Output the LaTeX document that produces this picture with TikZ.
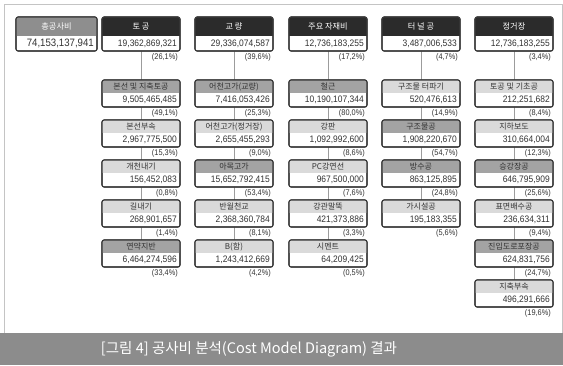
\documentclass[tikz,border=0pt]{standalone}
\usepackage{fontspec}
\setmainfont{Noto Sans CJK KR}
\newfontfamily\numfont[FakeStretch=0.9]{Liberation Sans}
\usetikzlibrary{calc}
\pgfdeclarelayer{bg}
\pgfsetlayers{bg,main}
\definecolor{boxline}{HTML}{3A3A3A}
\definecolor{hdrdark}{HTML}{2B2B2B}
\definecolor{hdrmid}{HTML}{A3A3A3}
\definecolor{hdrlight}{HTML}{DADADA}
\definecolor{hdrtotal}{HTML}{8E8E8E}
\definecolor{linkc}{HTML}{9C9C9C}
\definecolor{framec}{HTML}{C4C4C4}
\definecolor{capbar}{HTML}{8C8C8C}
\definecolor{txt}{HTML}{333333}
\tikzset{
  boxshape/.style={draw=boxline, line width=1.1pt, rounded corners=2.2pt, fill=white,
    minimum width=78pt, inner sep=0pt, outer sep=0pt},
  topbox/.style={boxshape, minimum height=34pt},
  subbox/.style={boxshape, minimum height=27pt},
  hdrsub/.style={font=\fontsize{8}{9}\selectfont, text=txt, inner sep=0pt},
  hdrtop/.style={font=\fontsize{8.2}{9}\selectfont, text=white, inner sep=0pt},
  valtxt/.style={font=\numfont\fontsize{9.4}{10}\selectfont, text=txt, inner sep=0pt, anchor=east},
  pcttxt/.style={font=\numfont\fontsize{8.2}{9}\selectfont, text=txt, inner sep=0pt, anchor=east},
  link/.style={draw=linkc, line width=0.9pt},
}
% #1 name, #2 position, #3 box style, #4 header height, #5 header fill,
% #6 header text style, #7 header, #8 value, #9 percent
\newcommand\mkbox[9]{%
  \node[#3, anchor=north] (#1) at #2 {};
  \begin{scope}
    \clip[rounded corners=2.2pt] (#1.north west) rectangle (#1.south east);
    \fill[#5] (#1.north west) rectangle ($(#1.north east)+(0pt,-#4pt)$);
  \end{scope}
  \draw[draw=boxline, line width=1.1pt, rounded corners=2.2pt] (#1.north west) rectangle (#1.south east);
  \node[#6] (#1-h) at ($(#1.north)+(0pt,{-#4/2*1pt})$) {#7};
  \node[valtxt] (#1-v) at ($ ($(#1.north east)+(-3pt,-#4pt)$)!0.5!($(#1.south east)+(-3pt,0pt)$) $) {#8};
  \if\relax\detokenize{#9}\relax\else
    \node[pcttxt] (#1-p) at ($(#1.south east)+(-2pt,-6.5pt)$) {#9};
  \fi
}
\begin{document}
\begin{tikzpicture}[x=1pt,y=-1pt]
\useasboundingbox (0,0) rectangle (563,365);
\begin{pgfonlayer}{bg}
  \fill[white] (0,0) rectangle (563,365);
  \draw[framec, line width=0.8pt] (562,4) -- (4,4) -- (4,333) -- (562,333) -- cycle;
\end{pgfonlayer}
\fill[capbar] (0,333) rectangle (563,365);
\node[font=\fontsize{14.5}{16}\selectfont, text=white, inner sep=0pt] (cap) at (249,349.5)
  {[그림 4] 공사비 분석(Cost Model Diagram) 결과};

% total
\mkbox{tot}{(56.5,17)}{topbox, minimum width=81pt}{19}{hdrtotal}{hdrtop}{총공사비}
  {\fontsize{10.7}{11}\selectfont 74,153,137,941}{}

% column 1
\mkbox{t1}{(141,17)}{topbox}{19}{hdrdark}{hdrtop}{토 공}{19,362,869,321}{(26,1\%)}
\mkbox{a1}{(141,80)}{subbox}{13}{hdrmid}{hdrsub}{본선 및 지축토공}{9,505,465,485}{(49,1\%)}
\mkbox{a2}{(141,120)}{subbox}{13}{hdrlight}{hdrsub}{본선부속}{2,967,775,500}{(15,3\%)}
\mkbox{a3}{(141,160)}{subbox}{13}{hdrlight}{hdrsub}{개천내기}{156,452,083}{(0,8\%)}
\mkbox{a4}{(141,200)}{subbox}{13}{hdrlight}{hdrsub}{길내기}{268,901,657}{(1,4\%)}
\mkbox{a5}{(141,240)}{subbox}{13}{hdrmid}{hdrsub}{연약지반}{6,464,274,596}{(33,4\%)}

% column 2
\mkbox{t2}{(234,17)}{topbox}{19}{hdrdark}{hdrtop}{교 량}{29,336,074,587}{(39,6\%)}
\mkbox{b1}{(234,80)}{subbox}{13}{hdrmid}{hdrsub}{어천고가(교량)}{7,416,053,426}{(25,3\%)}
\mkbox{b2}{(234,120)}{subbox}{13}{hdrlight}{hdrsub}{어천고가(정거장)}{2,655,455,293}{(9,0\%)}
\mkbox{b3}{(234,160)}{subbox}{13}{hdrmid}{hdrsub}{아목고가}{15,652,792,415}{(53,4\%)}
\mkbox{b4}{(234,200)}{subbox}{13}{hdrlight}{hdrsub}{반월천교}{2,368,360,784}{(8,1\%)}
\mkbox{b5}{(234,240)}{subbox}{13}{hdrlight}{hdrsub}{B(함)}{1,243,412,669}{(4,2\%)}

% column 3
\mkbox{t3}{(328,17)}{topbox}{19}{hdrdark}{hdrtop}{주요 자재비}{12,736,183,255}{(17,2\%)}
\mkbox{c1}{(328,80)}{subbox}{13}{hdrmid}{hdrsub}{철근}{10,190,107,344}{(80,0\%)}
\mkbox{c2}{(328,120)}{subbox}{13}{hdrlight}{hdrsub}{강판}{1,092,992,600}{(8,6\%)}
\mkbox{c3}{(328,160)}{subbox}{13}{hdrlight}{hdrsub}{PC강연선}{967,500,000}{(7,6\%)}
\mkbox{c4}{(328,200)}{subbox}{13}{hdrlight}{hdrsub}{강관말뚝}{421,373,886}{(3,3\%)}
\mkbox{c5}{(328,240)}{subbox}{13}{hdrlight}{hdrsub}{시멘트}{64,209,425}{(0,5\%)}

% column 4
\mkbox{t4}{(421,17)}{topbox}{19}{hdrdark}{hdrtop}{터 널 공}{3,487,006,533}{(4,7\%)}
\mkbox{d1}{(421,80)}{subbox}{13}{hdrlight}{hdrsub}{구조물 터파기}{520,476,613}{(14,9\%)}
\mkbox{d2}{(421,120)}{subbox}{13}{hdrmid}{hdrsub}{구조물공}{1,908,220,670}{(54,7\%)}
\mkbox{d3}{(421,160)}{subbox}{13}{hdrmid}{hdrsub}{방수공}{863,125,895}{(24,8\%)}
\mkbox{d4}{(421,200)}{subbox}{13}{hdrlight}{hdrsub}{가시설공}{195,183,355}{(5,6\%)}

% column 5
\mkbox{t5}{(514,17)}{topbox}{19}{hdrdark}{hdrtop}{정거장}{12,736,183,255}{(3,4\%)}
\mkbox{e1}{(514,80)}{subbox}{13}{hdrlight}{hdrsub}{토공 및 기초공}{212,251,682}{(8,4\%)}
\mkbox{e2}{(514,120)}{subbox}{13}{hdrlight}{hdrsub}{지하보도}{310,664,004}{(12,3\%)}
\mkbox{e3}{(514,160)}{subbox}{13}{hdrmid}{hdrsub}{승강장공}{646,795,909}{(25,6\%)}
\mkbox{e4}{(514,200)}{subbox}{13}{hdrlight}{hdrsub}{표면배수공}{236,634,311}{(9,4\%)}
\mkbox{e5}{(514,240)}{subbox}{13}{hdrmid}{hdrsub}{진입도로포장공}{624,831,756}{(24,7\%)}
\mkbox{e6}{(514,280)}{subbox}{13}{hdrlight}{hdrsub}{지축부속}{496,291,666}{(19,6\%)}

\begin{pgfonlayer}{bg}
  \draw[link] (t1.south) -- (a1.north) (a1.south) -- (a2.north) (a2.south) -- (a3.north)
              (a3.south) -- (a4.north) (a4.south) -- (a5.north);
  \draw[link] (t2.south) -- (b1.north) (b1.south) -- (b2.north) (b2.south) -- (b3.north)
              (b3.south) -- (b4.north) (b4.south) -- (b5.north);
  \draw[link] (t3.south) -- (c1.north) (c1.south) -- (c2.north) (c2.south) -- (c3.north)
              (c3.south) -- (c4.north) (c4.south) -- (c5.north);
  \draw[link] (t4.south) -- (d1.north) (d1.south) -- (d2.north) (d2.south) -- (d3.north)
              (d3.south) -- (d4.north);
  \draw[link] (t5.south) -- (e1.north) (e1.south) -- (e2.north) (e2.south) -- (e3.north)
              (e3.south) -- (e4.north) (e4.south) -- (e5.north) (e5.south) -- (e6.north);
\end{pgfonlayer}
\end{tikzpicture}
\end{document}
